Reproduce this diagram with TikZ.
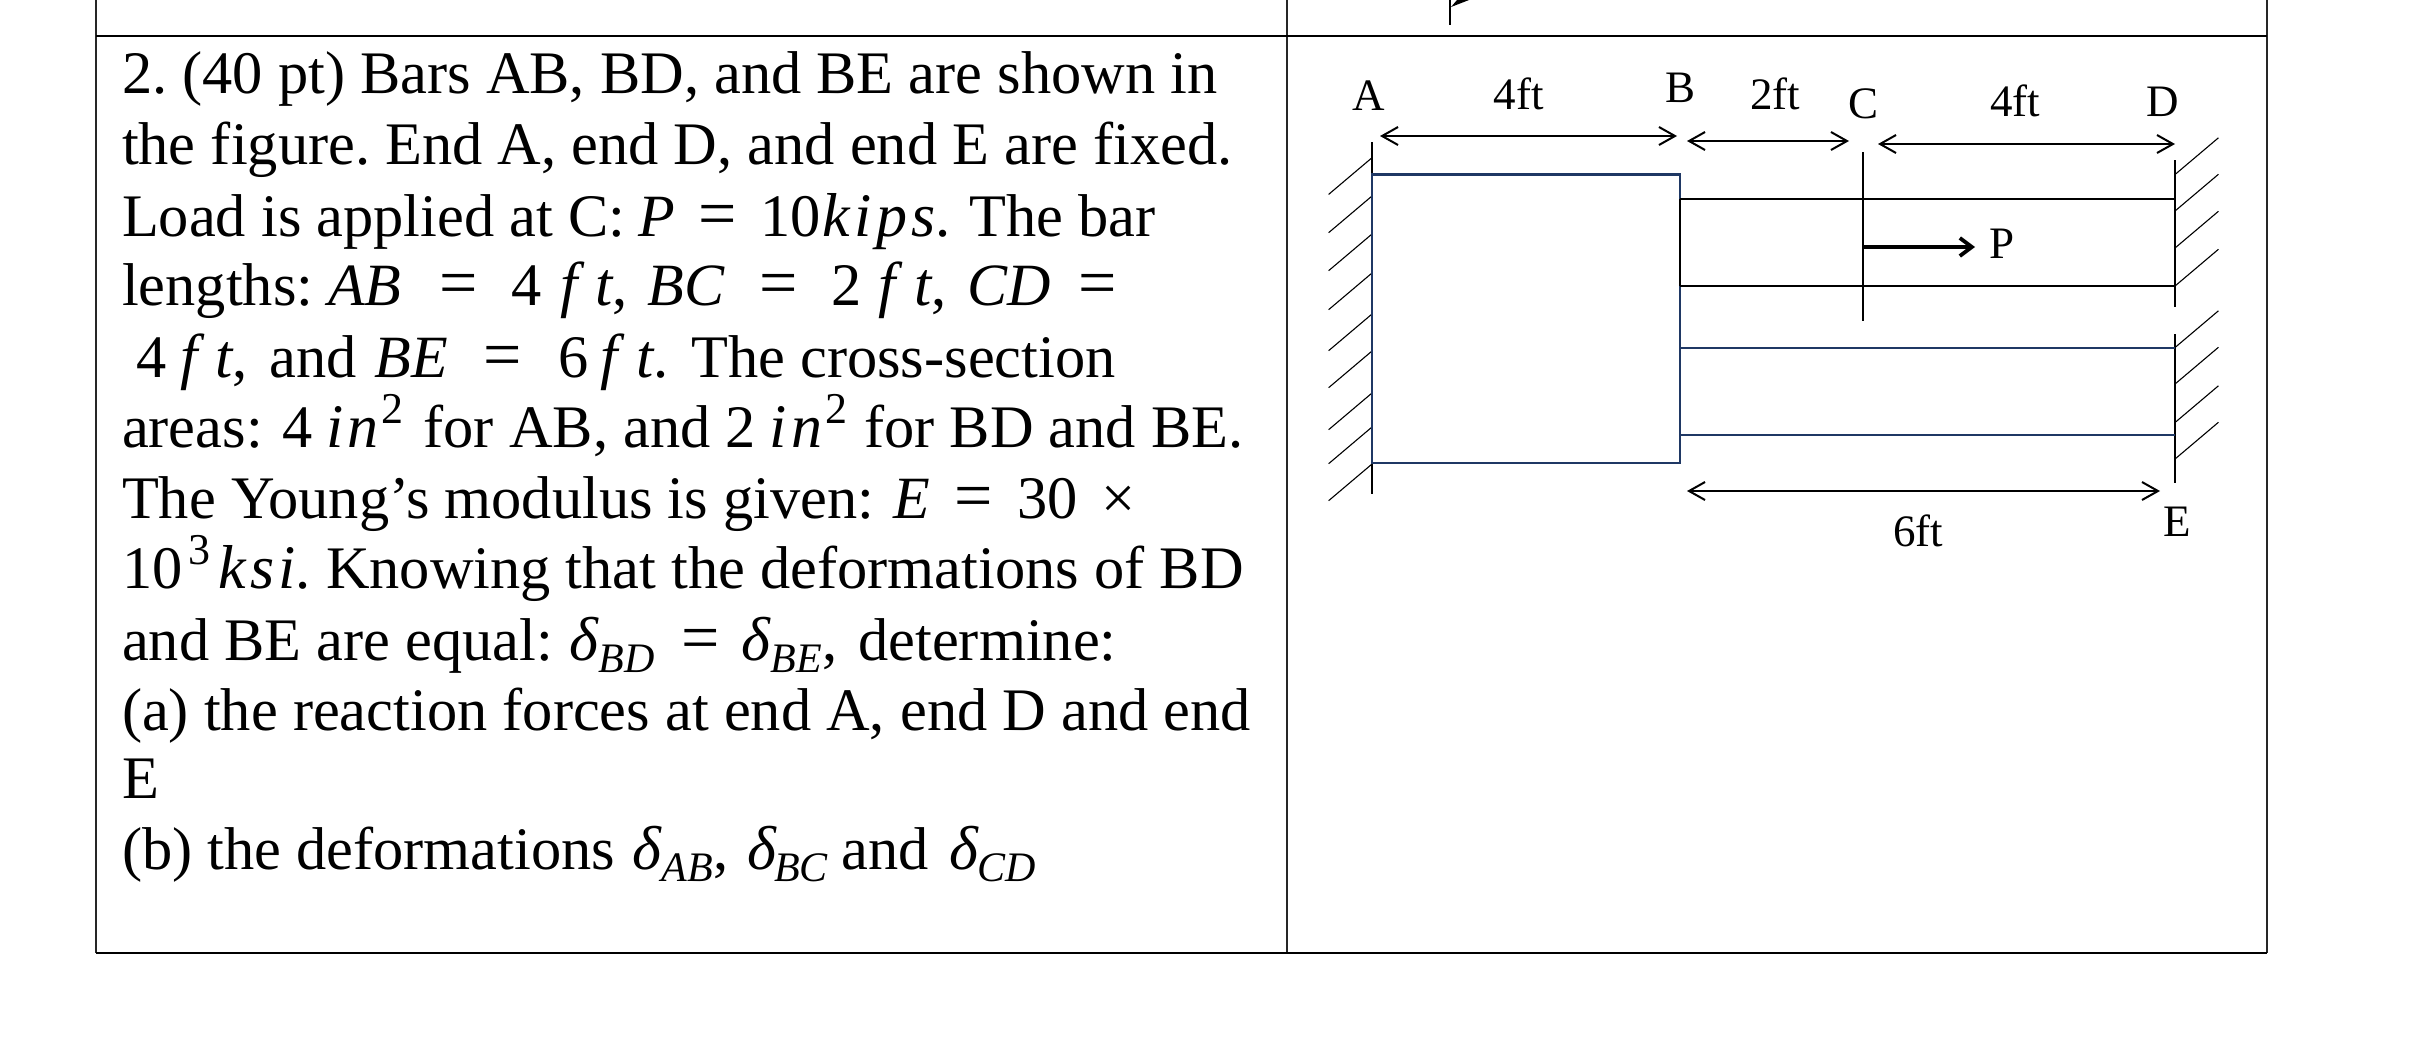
\documentclass[tikz,border=0pt]{standalone}
\usepackage{fontspec}
\setmainfont{Liberation Serif}
\newfontfamily\lcfnt[LetterSpace=7]{Liberation Serif}
\usetikzlibrary{arrows.meta}
\definecolor{navy}{HTML}{1F3864}
% lower-case and capital math letters, subscripts, superscripts, and gaps in picture pixels
\newcommand{\mi}[1]{{\fontsize{31}{35}\selectfont\lcfnt\itshape #1}}
\newcommand{\uc}[1]{{\fontsize{30}{35}\selectfont\itshape #1}}
\newcommand{\ftt}{\mi{f\kern9pt t}}
\newcommand{\sbs}[1]{\raisebox{-6pt}{\fontsize{21}{24}\selectfont\itshape #1}}
\newcommand{\sps}[1]{\raisebox{12pt}{\fontsize{22}{24}\selectfont #1}}
\newcommand{\eqs}{{\fontsize{34}{35}\selectfont =}}
\newcommand{\g}[1]{\kern\dimexpr #1pt/2\relax}
\tikzset{
  textline/.style={anchor=base west,inner sep=0pt,outer sep=0pt,font=\fontsize{30.2}{35}\selectfont\frenchspacing},
  lab/.style={anchor=center,inner sep=0pt,outer sep=0pt,font=\fontsize{22.5}{27}\selectfont},
  tbl/.style={line width=1pt,draw=black!85},
  tblheavy/.style={line width=1.4pt,draw=black},
  wall/.style={line width=0.9pt,black},
  hatch/.style={line width=0.55pt,black},
  barb/.style={line width=1pt,black},
  dim/.style={barb,{Straight Barb[length=8pt,width=9pt]}-{Straight Barb[length=8pt,width=9pt]}},
  force/.style={line width=1.9pt,black,-{Straight Barb[length=6pt,width=9pt]}},
  navybar/.style={line width=1pt,navy},
  blackbar/.style={line width=1pt,black}
}
\begin{document}
\begin{tikzpicture}[x=0.5pt,y=-0.5pt]
\useasboundingbox[fill=white] (0,0) rectangle (2418,1062);
% table
\coordinate (tl) at (96,0); \coordinate (tm) at (1286.5,0); \coordinate (tr) at (2267,0);
\coordinate (hl) at (96,36); \coordinate (hm) at (1286.5,36); \coordinate (hr) at (2267,36);
\coordinate (bl) at (96,953); \coordinate (bm) at (1286.5,953); \coordinate (br) at (2267,953);
\draw[tbl] (tl) -- (bl);
\draw[tbl] (tm) -- (bm);
\draw[tbl] (tr) -- (br);
\draw[tblheavy] (hl) -- (hr);
\draw[tblheavy] (bl) -- (br);
% text
\node[textline] (l1) at (122,93.7) {2. (40 pt) Bars AB, BD, and BE are shown in};
\node[textline] (l2) at (122,164) {the figure. End A, end D, and end E are fixed.};
\node[textline] (l3) at (122,236) {Load is applied at C:\g{13}\uc{P}\g{24}\eqs\g{23}10\g{2}\mi{kips}.\g{19}The bar};
\node[textline] (l4) at (122,305) {lengths:\g{15}\uc{AB}\g{38}\eqs\g{34}4\g{18}\ftt,\g{20}\uc{BC}\g{35}\eqs\g{34}2\g{17}\ftt,\g{21}\uc{CD}\g{28}\eqs};
\node[textline] (l5) at (136,377.7) {4\g{14}\ftt,\g{22}and\g{18}\uc{BE}\g{35}\eqs\g{37}6\g{12}\ftt.\g{23}The cross-section};
\node[textline] (l6) at (122,447.7) {areas:\g{20}4\g{13}\mi{in}\g{3}\sps{2}\g{20}for AB, and 2\g{14}\mi{in}\g{3}\sps{2}\g{17}for BD and BE.};
\node[textline] (l7) at (122,518) {The Young’s modulus is given:\g{19}\uc{E}\g{25}\eqs\g{24}30\g{24}×};
\node[textline] (l8) at (122,588) {10\g{6}\sps{3}\g{8}\mi{ksi}.\g{15}Knowing that the deformations of BD};
\node[textline] (l9) at (122,660) {and BE are equal:\g{16}\mi{δ}\g{1}\sbs{BD}\g{27}\eqs\g{21}\mi{δ}\g{1}\sbs{BE},\g{21}determine:};
\node[textline] (l10) at (122,730) {(a) the reaction forces at end A, end D and end};
\node[textline] (l11) at (122,798) {E};
\node[textline] (l12) at (122,869) {(b) the deformations\g{17}\mi{δ}\g{1}\sbs{AB},\g{19}\mi{δ}\g{-2}\sbs{BC}\g{14}and\g{20}\mi{δ}\g{0}\sbs{CD}};
% stub at top
\coordinate (s1) at (1450,0); \coordinate (s2) at (1450,25);
\draw[wall] (s1) -- (s2);
\fill[black] (1451,7) -- (1457,0) -- (1469,0) -- cycle;
% figure coordinates
\coordinate (Atop) at (1372,142); \coordinate (Abot) at (1372,494);
\coordinate (Dtop) at (2175,160); \coordinate (Dbot) at (2175,307);
\coordinate (Etop) at (2175,334); \coordinate (Ebot) at (2175,483);
\coordinate (Ctop) at (1863,152); \coordinate (Cbot) at (1863,321);
\coordinate (Cload) at (1863,247);
\coordinate (bdtl) at (1680,199); \coordinate (bdtr) at (2175,199);
\coordinate (bdbl) at (1680,286); \coordinate (bdbr) at (2175,286);
\coordinate (betl) at (1680,348); \coordinate (betr) at (2175,348);
\coordinate (bebl) at (1680,435); \coordinate (bebr) at (2175,435);
% walls
\draw[wall] (Atop) -- (Abot);
\draw[wall] (Dtop) -- (Dbot);
\draw[wall] (Etop) -- (Ebot);
\foreach \yy in {157.7,196,234,273,314,351,393,427,464}
  \draw[hatch] (1372,\yy) -- ++(-43.4,36.7);
\foreach \yy in {174.5,211,248,286,347.5,384,422.5,459}
  \draw[hatch] (2175,\yy) -- ++(43.4,-36.7);
% bars
\draw[navybar,line width=1.4pt] (1372,174.5) rectangle (1680,463);
\draw[blackbar] (bdtl) -- (bdbl);
\draw[blackbar] (bdtl) -- (bdtr);
\draw[blackbar] (bdbl) -- (bdbr);
\draw[navybar] (betl) -- (betr);
\draw[navybar] (bebl) -- (bebr);
\draw[wall] (Ctop) -- (Cbot);
% labels
\node[lab] (A) at (1369,96) {A};
\node[lab] (B) at (1680,88) {B};
\node[lab] (C) at (1863,104) {C};
\node[lab] (D) at (2163,102) {D};
\node[lab] (E) at (2177,522) {E};
\node[lab] (P) at (2002,244) {P};
\node[lab] (d1) at (1518.5,94) {4ft};
\node[lab] (d2) at (1775,94) {2ft};
\node[lab] (d3) at (2015,101) {4ft};
\node[lab] (d4) at (1918,531) {6ft};
% dimensions
\coordinate (ab1) at (1380,136); \coordinate (ab2) at (1677,136);
\coordinate (bc1) at (1687,141); \coordinate (bc2) at (1849,141);
\coordinate (cd1) at (1878,144); \coordinate (cd2) at (2175,144);
\coordinate (be1) at (1687,491); \coordinate (be2) at (2160,491);
\coordinate (Ptip) at (1975,247);
\draw[dim] (ab1) -- (ab2);
\draw[dim] (bc1) -- (bc2);
\draw[dim] (cd1) -- (cd2);
\draw[dim] (be1) -- (be2);
\draw[force] (Cload) -- (Ptip);
\end{tikzpicture}
\end{document}
